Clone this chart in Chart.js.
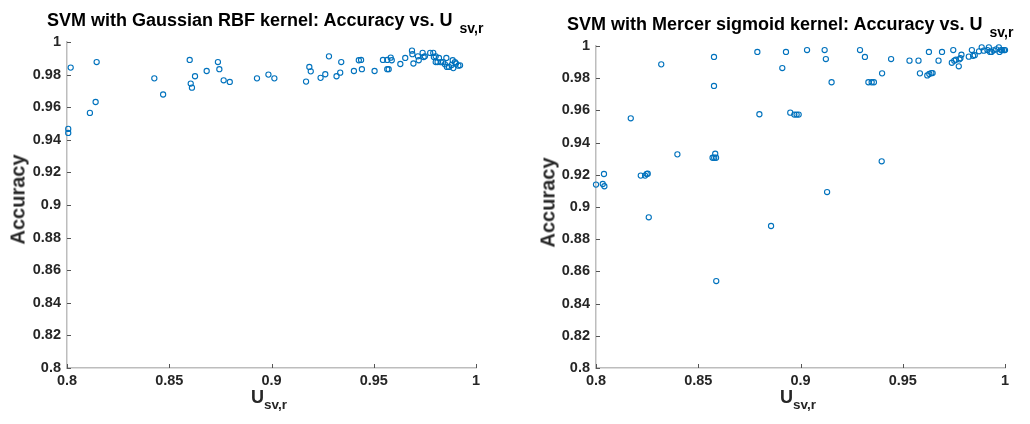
<!DOCTYPE html>
<html>
<head>
<meta charset="utf-8">
<script src="https://cdn.jsdelivr.net/npm/chart.js@4/dist/chart.umd.min.js"></script>
<style>
  body { margin: 0; background: #fff; width: 1030px; height: 424px; overflow: hidden; position: relative;
         font-family: "Liberation Sans", Arial, Helvetica, sans-serif; color: #000; }
  .box { position: absolute; top: 0; width: 510px; height: 424px; }
  .box canvas { position: absolute; left: 0; top: 0; }
  .title { position: absolute; font-weight: bold; font-size: 18px; white-space: nowrap; }
  .title sub { font-size: 14px; vertical-align: -0.5em; line-height: 0; margin-left: 7px; }
  .xlab { position: absolute; font-weight: bold; font-size: 18px; white-space: nowrap; color: #262626; }
  .xlab sub { font-size: 13.5px; vertical-align: -0.45em; line-height: 0; }
  .ylab { position: absolute; font-weight: bold; font-size: 20px; white-space: nowrap; color: #262626;
          transform: rotate(-90deg); transform-origin: center; }
</style>
</head>
<body>
<div class="box" style="left:0"><canvas id="rbf" width="510" height="424"></canvas></div>
<div class="box" style="left:520px"><canvas id="sig" width="510" height="424"></canvas></div>

<div class="title" style="left:47px; top:10px">SVM with Gaussian RBF kernel: Accuracy vs. U<sub>sv,r</sub></div>
<div class="title" style="left:567px; top:14px">SVM with Mercer sigmoid kernel: Accuracy vs. U<sub>sv,r</sub></div>
<div class="xlab" style="left:251px; top:387px">U<sub>sv,r</sub></div>
<div class="xlab" style="left:780px; top:387px">U<sub>sv,r</sub></div>
<div class="ylab" style="left:-27px; top:188px">Accuracy</div>
<div class="ylab" style="left:503px; top:191px">Accuracy</div>

<script>
// Gaussian RBF kernel points (U_sv,r, accuracy)
const rbfX = [0.8018, 0.8145, 0.8140, 0.8112, 0.8006, 0.8006, 0.8427, 0.8470, 0.8600, 0.8626,
  0.8605, 0.8611, 0.8683, 0.8738, 0.8745, 0.8766, 0.8796, 0.8929, 0.8985, 0.9014,
  0.9169, 0.9185, 0.9192, 0.9240, 0.9263, 0.9281, 0.9318, 0.9336, 0.9341, 0.9403,
  0.9427, 0.9438, 0.9442, 0.9504, 0.9545, 0.9566, 0.9583, 0.9588, 0.9566, 0.9573,
  0.9630, 0.9654, 0.9687, 0.9694, 0.9689, 0.9716, 0.9720, 0.9739, 0.9744, 0.9750,
  0.9776, 0.9791, 0.9794, 0.9803, 0.9803, 0.9812, 0.9819, 0.9829, 0.9839, 0.9855,
  0.9848, 0.9858, 0.9868, 0.9881, 0.9886, 0.9889, 0.9897, 0.9902, 0.9914, 0.9922];
const rbfY = [0.9843, 0.9877, 0.9632, 0.9565, 0.9467, 0.9442, 0.9777, 0.9678, 0.9890, 0.9790,
  0.9745, 0.9720, 0.9822, 0.9877, 0.9833, 0.9765, 0.9755, 0.9777, 0.9800, 0.9777,
  0.9757, 0.9847, 0.9820, 0.9780, 0.9802, 0.9912, 0.9790, 0.9812, 0.9877, 0.9822,
  0.9888, 0.9890, 0.9833, 0.9822, 0.9890, 0.9890, 0.9904, 0.9888, 0.9833, 0.9833,
  0.9865, 0.9902, 0.9947, 0.9868, 0.9925, 0.9912, 0.9888, 0.9933, 0.9908, 0.9912,
  0.9933, 0.9933, 0.9908, 0.9912, 0.9877, 0.9877, 0.9902, 0.9876, 0.9877, 0.9902,
  0.9863, 0.9847, 0.9847, 0.9859, 0.9888, 0.9840, 0.9876, 0.9868, 0.9855, 0.9857];

// Mercer sigmoid kernel points
const sigX = [0.8000, 0.8033, 0.8041, 0.8039, 0.8170, 0.8219, 0.8240, 0.8248, 0.8253, 0.8319,
  0.8398, 0.8577, 0.8577, 0.8570, 0.8578, 0.8587, 0.8583, 0.8789, 0.8799, 0.8911,
  0.8929, 0.8950, 0.8970, 0.8981, 0.8991, 0.9032, 0.8258, 0.8588, 0.8856, 0.9130,
  0.9397, 0.9118, 0.9124, 0.9152, 0.9291, 0.9315, 0.9332, 0.9348, 0.9359, 0.9399,
  0.9443, 0.9533, 0.9577, 0.9584, 0.9620, 0.9630, 0.9640, 0.9646, 0.9628, 0.9675,
  0.9692, 0.9747, 0.9740, 0.9752, 0.9760, 0.9774, 0.9777, 0.9787, 0.9782, 0.9823,
  0.9838, 0.9844, 0.9852, 0.9873, 0.9886, 0.9896, 0.9914, 0.9921, 0.9927, 0.9934,
  0.9944, 0.9957, 0.9970, 0.9973, 0.9981, 0.9986, 0.9995, 1.0000];
const sigY = [0.9139, 0.9143, 0.9129, 0.9205, 0.9551, 0.9195, 0.9195, 0.9205, 0.9207, 0.9886,
  0.9327, 0.9932, 0.9752, 0.9306, 0.9306, 0.9306, 0.9331, 0.9963, 0.9576, 0.9863,
  0.9963, 0.9586, 0.9574, 0.9574, 0.9574, 0.9975, 0.8936, 0.8540, 0.8882, 0.9093,
  0.9284, 0.9975, 0.9919, 0.9775, 0.9975, 0.9932, 0.9775, 0.9775, 0.9775, 0.9830,
  0.9919, 0.9909, 0.9909, 0.9830, 0.9817, 0.9826, 0.9832, 0.9832, 0.9963, 0.9909,
  0.9963, 0.9975, 0.9896, 0.9909, 0.9915, 0.9874, 0.9917, 0.9946, 0.9924, 0.9934,
  0.9975, 0.9939, 0.9943, 0.9967, 0.9992, 0.9971, 0.9975, 0.9992, 0.9963, 0.9963,
  0.9973, 0.9979, 0.9992, 0.9963, 0.9975, 0.9975, 0.9975, 0.9975];

const axisMin = 0.8;
const axisMax = 1;
const xStep = 0.05;
const yStep = 0.02;

const blue = '#0072BD';
const tickFont = { family: '"Liberation Sans", Arial, sans-serif', size: 14.5, weight: 'bold' };

// MATLAB-style inward tick marks on the left and bottom axes
const inwardTicks = {
  id: 'inwardTicks',
  afterDraw(chart) {
    const { ctx, chartArea: a, scales } = chart;
    ctx.save();
    ctx.strokeStyle = '#555';
    ctx.lineWidth = 1;
    ctx.beginPath();
    scales.x.ticks.forEach(t => {
      const px = Math.round(scales.x.getPixelForValue(t.value)) + 0.5;
      ctx.moveTo(px, a.bottom);
      ctx.lineTo(px, a.bottom - 4);
    });
    scales.y.ticks.forEach(t => {
      const py = Math.round(scales.y.getPixelForValue(t.value)) + 0.5;
      ctx.moveTo(a.left, py);
      ctx.lineTo(a.left + 4, py);
    });
    ctx.stroke();
    ctx.restore();
  }
};

function fmt(v) {
  return String(Number(v.toFixed(2)));
}

function makeChart(id, xs, ys, yAxisWidth, padTop, padRight) {
  const pts = xs.map((x, i) => ({ x, y: ys[i] }));
  return new Chart(document.getElementById(id), {
    type: 'scatter',
    data: {
      datasets: [{
        data: pts,
        clip: false,
        pointStyle: 'circle',
        pointRadius: 2.6,
        pointBorderWidth: 1.1,
        borderColor: blue,
        backgroundColor: 'rgba(0,0,0,0)'
      }]
    },
    options: {
      responsive: false,
      animation: false,
      events: [],
      layout: { padding: { top: padTop, right: padRight, left: 0, bottom: 0 } },
      plugins: { legend: { display: false }, tooltip: { enabled: false } },
      scales: {
        x: {
          type: 'linear', min: axisMin, max: axisMax,
          grid: { display: false, drawTicks: false },
          border: { display: true, color: '#bdbdbd', width: 1.5 },
          ticks: { stepSize: xStep, callback: fmt, font: tickFont, color: '#262626', padding: 4, maxRotation: 0 },
          afterFit(s) { s.height = 56; }
        },
        y: {
          type: 'linear', min: axisMin, max: axisMax,
          grid: { display: false, drawTicks: false },
          border: { display: true, color: '#bdbdbd', width: 1.5 },
          ticks: { stepSize: yStep, callback: fmt, font: tickFont, color: '#262626', padding: 6 },
          afterFit(s) { s.width = yAxisWidth; }
        }
      }
    },
    plugins: [inwardTicks]
  });
}

makeChart('rbf', rbfX, rbfY, 67, 42, 34);
makeChart('sig', sigX, sigY, 76, 46, 25);
</script>
</body>
</html>
